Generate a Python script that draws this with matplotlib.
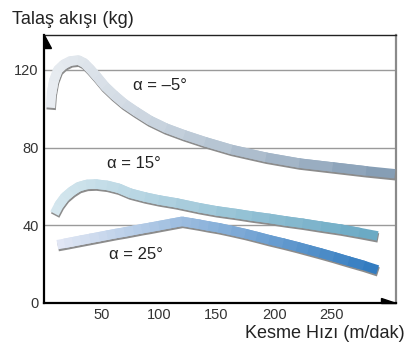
import matplotlib
matplotlib.use("Agg")
import matplotlib.pyplot as plt
import numpy as np
from matplotlib.collections import LineCollection
from matplotlib.colors import LinearSegmentedColormap
from matplotlib.patches import Polygon
from matplotlib.transforms import offset_copy

plt.rcParams['font.family'] = ['Liberation Sans', 'DejaVu Sans']

# alfa = -5
x_m5 = [5.5, 6.5, 8.5, 12, 17, 23, 30, 35, 40, 46, 53, 61, 70, 80, 92, 106,
        122, 140, 163, 193, 222, 251, 280, 305]
y_m5 = [100.5, 108, 114.5, 120, 122.8, 124.6, 125, 123.5, 120.5, 116.5, 111.5,
        107, 102.5, 98.5, 94, 90, 86.5, 83, 79, 75, 72, 70, 68, 66.5]

# alfa = 15
x_15 = [9, 13, 18, 24, 30, 37, 45, 55, 65, 75, 88, 100, 115, 135, 150, 167,
        181, 196, 210, 225, 241, 258, 274, 290]
y_15 = [46, 50.5, 54.5, 57.5, 59.8, 61, 61.2, 60.5, 59, 56.5, 54.5, 53, 51.5,
        49, 47.4, 46, 44.7, 43.5, 42.2, 41, 39.5, 38, 36.3, 34.5]

# alfa = 25
x_25 = [11.5, 18, 25, 32, 40, 48, 55, 62, 70, 78, 85, 92, 100, 110, 120, 128,
        135, 143, 152, 163, 175, 185, 196, 208, 220, 230, 240, 252, 265, 278,
        290]
y_25 = [30, 30.7, 31.5, 32.3, 33.2, 34.1, 34.9, 35.7, 36.5, 37.4, 38.2, 38.9,
        39.8, 40.9, 42, 41.2, 40.5, 39.6, 38.7, 37.3, 35.7, 34.2, 32.5, 30.8,
        29, 27.4, 25.8, 23.8, 21.5, 19.3, 17]

x_ticks = [50, 100, 150, 200, 250]
y_ticks = [0, 40, 80, 120]

fig = plt.figure(figsize=(4.16, 3.49), dpi=100)
ax = fig.add_axes([0.106, 0.132, 0.846, 0.768])
ax.set_xlim(0, 306)
ax.set_ylim(0, 138)

for g in [40, 80, 120]:
    ax.axhline(g, color='#9a9a9a', lw=1.0, zorder=1)

LW = 6.8
shadow_tr = offset_copy(ax.transData, fig=fig, x=0.7, y=-2.0, units='dots')


def ribbon(x, y, c_left, c_right):
    x = np.array(x)
    y = np.array(y)
    ax.plot(x, y, color='#8c8c8c', lw=LW, solid_capstyle='butt',
            solid_joinstyle='round', transform=shadow_tr, zorder=2)
    cmap = LinearSegmentedColormap.from_list('r', [c_left, c_right])
    pts = np.column_stack([x, y]).reshape(-1, 1, 2)
    segs = np.concatenate([pts[:-1], pts[1:]], axis=1)
    mid = (x[:-1] + x[1:]) / 2
    cols = cmap((mid - x.min()) / (x.max() - x.min()))
    base = LineCollection(segs[1:-1], colors=cols[1:-1], linewidths=LW,
                          capstyle='round', zorder=3)
    ax.add_collection(base)
    top = LineCollection(segs, colors=cols, linewidths=LW,
                         capstyle='butt', zorder=4)
    ax.add_collection(top)


ribbon(x_m5, y_m5, '#e8ecf1', '#829bb3')
ribbon(x_15, y_15, '#d4e6ee', '#68a8c3')
ribbon(x_25, y_25, '#e2e7f4', '#2f7abf')

ax.text(101, 112, 'α = –5°', fontsize=12, ha='center', va='center',
        color='#222222')
ax.text(78, 72, 'α = 15°', fontsize=12, ha='center', va='center',
        color='#222222')
ax.text(80, 25, 'α = 25°', fontsize=12, ha='center', va='center',
        color='#222222')

ax.set_xticks(x_ticks)
ax.set_yticks(y_ticks)
ax.tick_params(length=0, labelsize=10.5, colors='#333333', pad=4)

for s in ['left', 'bottom']:
    ax.spines[s].set_linewidth(1.6)
    ax.spines[s].set_color('black')
ax.spines['top'].set_linewidth(1.0)
ax.spines['top'].set_color('#222222')
ax.spines['right'].set_linewidth(1.6)
ax.spines['right'].set_color('#8a8a8a')

# arrow heads
ax.add_patch(Polygon([(0, 1), (0, 1 - 13 / 268), (7 / 352, 1 - 13 / 268)],
                     closed=True, color='black', transform=ax.transAxes,
                     clip_on=False, zorder=6))
ax.add_patch(Polygon([(1, 0), (1 - 15 / 352, 0), (1 - 15 / 352, 5 / 268)],
                     closed=True, color='black', transform=ax.transAxes,
                     clip_on=False, zorder=6))

fig.text(12 / 416, 1 - 19 / 349, 'Talaş akışı (kg)', fontsize=13,
         ha='left', va='center', color='#222222')
fig.text(405 / 416, 1 - 334 / 349, 'Kesme Hızı (m/dak)', fontsize=13,
         ha='right', va='center', color='#222222')

fig.savefig('out.png', dpi=100)
